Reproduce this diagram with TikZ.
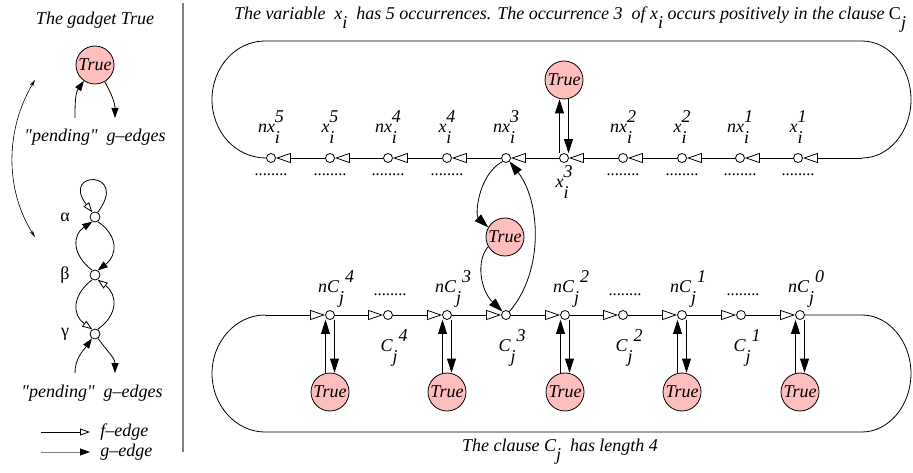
\documentclass[tikz,border=0pt]{standalone}
\usepackage{fontspec}
\newfontfamily\figserif{Liberation Serif}
\usetikzlibrary{arrows.meta,calc}
\definecolor{truepink}{RGB}{255,190,190}
\definecolor{sepgray}{RGB}{128,128,128}
% base letter with a stacked superscript and subscript
\newcommand\lbl[4][0pt]{#2\rlap{\raisebox{-0.6em}{#4}}\hspace{#1}\raisebox{0.55em}{#3}}
% base letter with a lowered index
\newcommand\lowidx[2]{#1\raisebox{-0.5em}{#2}}
\begin{document}
\begin{tikzpicture}[x=1pt,y=1pt,
  font=\figserif\fontsize{18}{21}\selectfont\itshape,
  line width=0.8pt,
  dot/.style={circle,draw,fill=white,minimum size=9pt,inner sep=0pt},
  bigdot/.style={circle,draw,fill=white,minimum size=10pt,inner sep=0pt},
  truenode/.style={circle,draw,fill=truepink,minimum size=38pt,inner sep=0pt},
  lab/.style={inner sep=0pt},
  greek/.style={font=\figserif\fontsize{18}{21}\selectfont\upshape},
  fedge/.style={-{Triangle[open,length=15pt,width=10pt]}},
  gedge/.style={-{Triangle[length=14pt,width=9pt]}},
  fsmall/.style={-{Triangle[open,length=10pt,width=7pt]}},
  gsmall/.style={-{Triangle[length=10pt,width=7pt]}},
  glegend/.style={draw=sepgray,-{Triangle[length=10pt,width=7pt,color=black]}},
  dots/.style={inner sep=0pt,font=\figserif\fontsize{16.5}{20}\selectfont}
]
\useasboundingbox (0,0) rectangle (913,-473);

% separator between the two panels
\draw[sepgray,line width=1.5pt] (183,-3) -- (183,-452);

%% ---------- left panel: the gadget True ----------
\node (gtitle) at (95,-20) {The gadget True};
\node[truenode] (G) at (95,-65) {True};
\coordinate (p1) at (75,-118);
\coordinate (p2) at (115,-118);
\draw[gsmall] (p1) to[out=90,in=235] (G.235);
\draw[gsmall] (G.300) to[out=-60,in=90] (p2);
\node (pend1) at (95,-137) {"pending"\ \ g–edges};

\coordinate (L1) at (35,-80);
\coordinate (L2) at (35,-237);
\draw[line width=0.6pt,{Stealth[length=7pt,width=3.5pt]}-{Stealth[length=7pt,width=3.5pt]}]
  (L1) .. controls (5,-130) and (5,-190) .. (L2);

\node[bigdot] (A) at (95,-217) {};
\node[bigdot] (B) at (95,-275) {};
\node[bigdot] (Gm) at (95,-334) {};
\node[greek] (la) at (65,-217) {α};
\node[greek] (lb) at (65,-275) {β};
\node[greek] (lg) at (65,-334) {γ};

\draw[fsmall] (A.60) .. controls (130,-170) and (60,-170) .. (A.120);
\draw[gsmall] (A.-60) .. controls (118,-235) and (118,-255) .. (B.60);
\draw[gsmall] (B.120) .. controls (72,-255) and (72,-235) .. (A.240);
\draw[fsmall] (B.240) .. controls (72,-295) and (72,-315) .. (Gm.120);
\draw[fsmall] (Gm.60) .. controls (118,-315) and (118,-295) .. (B.-60);

\coordinate (q1) at (75,-373);
\coordinate (q2) at (115,-373);
\draw[gsmall] (q1) to[out=90,in=235] (Gm.235);
\draw[gsmall] (Gm.-55) to[out=-55,in=90] (q2);
\node (pend2) at (92,-393) {"pending"\ \ g–edges};

% legend
\coordinate (f1) at (41,-432); \coordinate (f2) at (90,-432);
\coordinate (g1) at (41,-452); \coordinate (g2) at (90,-452);
\draw[fsmall] (f1) -- (f2);
\draw[glegend] (g1) -- (g2);
\node[anchor=west,inner sep=0pt] (lf) at (100,-432) {f–edge};
\node[anchor=west,inner sep=0pt] (lg2) at (100,-452) {g–edge};

%% ---------- right panel ----------
\node (title) at (570,-20) {The variable\ \ \lowidx{x}{i}\ \ has 5 occurrences. The occurrence 3\ \ of \lowidx{x}{i} occurs positively in the clause \lowidx{\textup{C}}{j}};

% variable chain
\foreach \n/\x in {nx5/271,x5/330,nx4/388,x4/447,nx3/506,x3/564,nx2/623,x2/682,nx1/740,x1/798}
  \node[dot] (\n) at (\x,-158) {};

\node[lab] (lnx5) at ([yshift=31pt]nx5) {\lbl{nx}{5}{i}};
\node[lab] (lx5)  at ([yshift=31pt]x5)  {\lbl{x}{5}{i}};
\node[lab] (lnx4) at ([yshift=31pt]nx4) {\lbl{nx}{4}{i}};
\node[lab] (lx4)  at ([yshift=31pt]x4)  {\lbl{x}{4}{i}};
\node[lab] (lnx3) at ([yshift=31pt]nx3) {\lbl{nx}{3}{i}};
\node[lab] (lnx2) at ([yshift=31pt]nx2) {\lbl{nx}{2}{i}};
\node[lab] (lx2)  at ([yshift=31pt]x2)  {\lbl{x}{2}{i}};
\node[lab] (lnx1) at ([yshift=31pt]nx1) {\lbl{nx}{1}{i}};
\node[lab] (lx1)  at ([yshift=31pt]x1)  {\lbl{x}{1}{i}};
\node[lab] (lx3)  at ([yshift=-24pt]x3) {\lbl{x}{3}{i}};

\foreach \n in {nx5,x5,nx4,x4,nx2,x2,nx1,x1}
  \node[dots] at ([yshift=-17pt]\n) {........};

% the cycle of the variable
\draw (nx5.west) .. controls (235.7,-158) and (212,-131.8) .. (212,-99.5)
  .. controls (212,-67.2) and (235.7,-41) .. (265,-41) -- (862,-41)
  .. controls (889,-41) and (911,-67.2) .. (911,-99.5)
  .. controls (911,-131.8) and (889,-158) .. (862,-158) coordinate (tr);
\draw[fedge] (tr) -- (x1);
\draw[fedge] (x1) -- (nx1);
\draw[fedge] (nx1) -- (x2);
\draw[fedge] (x2) -- (nx2);
\draw[fedge] (nx2) -- (x3);
\draw[fedge] (x3) -- (nx3);
\draw[fedge] (nx3) -- (x4);
\draw[fedge] (x4) -- (nx4);
\draw[fedge] (nx4) -- (x5);
\draw[fedge] (x5) -- (nx5);

% gadget True attached to x_i^3
\node[truenode] (TX) at (564,-80) {True};
\draw[gedge] ([xshift=-4.5pt]x3.north) -- ([xshift=-4.5pt]TX.south);
\draw[gedge] ([xshift=4.5pt]TX.south) -- ([xshift=4.5pt]x3.north);

% clause chain
\foreach \n/\x in {nC4/330,C4/388,nC3/447,C3/506,nC2/565,C2/623,nC1/682,C1/741,nC0/800}
  \node[dot] (\n) at (\x,-315) {};

\node[lab] (lnC4) at ([xshift=6pt,yshift=26pt]nC4) {\lbl[6pt]{nC}{4}{j}};
\node[lab] (lnC3) at ([xshift=6pt,yshift=26pt]nC3) {\lbl[6pt]{nC}{3}{j}};
\node[lab] (lnC2) at ([xshift=6pt,yshift=26pt]nC2) {\lbl[6pt]{nC}{2}{j}};
\node[lab] (lnC1) at ([xshift=6pt,yshift=26pt]nC1) {\lbl[6pt]{nC}{1}{j}};
\node[lab] (lnC0) at ([xshift=6pt,yshift=26pt]nC0) {\lbl[6pt]{nC}{0}{j}};
\node[lab] (lC4) at ([xshift=6pt,yshift=-33pt]C4) {\lbl[6pt]{C}{4}{j}};
\node[lab] (lC3) at ([xshift=6pt,yshift=-33pt]C3) {\lbl[6pt]{C}{3}{j}};
\node[lab] (lC2) at ([xshift=6pt,yshift=-33pt]C2) {\lbl[6pt]{C}{2}{j}};
\node[lab] (lC1) at ([xshift=6pt,yshift=-33pt]C1) {\lbl[6pt]{C}{1}{j}};

\foreach \n in {C4,C2,C1}
  \node[dots] at ([xshift=2pt,yshift=20pt]\n) {........};

% the cycle of the clause
\coordinate (bl) at (265,-315);
\draw (bl) .. controls (235.7,-315) and (212,-341.8) .. (212,-373.5)
  .. controls (212,-405.2) and (235.7,-432) .. (265,-432) -- (862,-432)
  .. controls (889,-432) and (911,-405.2) .. (911,-373.5)
  .. controls (911,-341.8) and (889,-315) .. (862,-315) -- (nC0.east);
\draw[fedge] (bl) -- (nC4);
\draw[fedge] (nC4) -- (C4);
\draw[fedge] (C4) -- (nC3);
\draw[fedge] (nC3) -- (C3);
\draw[fedge] (C3) -- (nC2);
\draw[fedge] (nC2) -- (C2);
\draw[fedge] (C2) -- (nC1);
\draw[fedge] (nC1) -- (C1);
\draw[fedge] (C1) -- (nC0);

% gadgets True hanging below the negated clause vertices
\foreach \n/\t/\x in {nC4/T4/330,nC3/T3/447,nC2/T2/565,nC1/T1/682,nC0/T0/800}{
  \node[truenode] (\t) at (\x,-392) {True};
  \draw[gedge] ([xshift=-4.5pt]\t.north) -- ([xshift=-4.5pt]\n.south);
  \draw[gedge] ([xshift=4.5pt]\n.south) -- ([xshift=4.5pt]\t.north);
}

% link between occurrence 3 of x_i and the clause C_j
\node[truenode] (TM) at (505,-237) {True};
\draw[gedge] (nx3.south west) .. controls (478,-175) and (475,-215) .. (TM.150);
\draw[gedge] (TM.210) .. controls (476,-260) and (480,-290) .. (C3.north west);
\draw[gedge] (C3.north east) .. controls (545,-270) and (540,-200) .. (nx3.south east);

\node (caption) at (560,-452) {The clause \lowidx{C}{j}\ \ has length 4};
\end{tikzpicture}
\end{document}
